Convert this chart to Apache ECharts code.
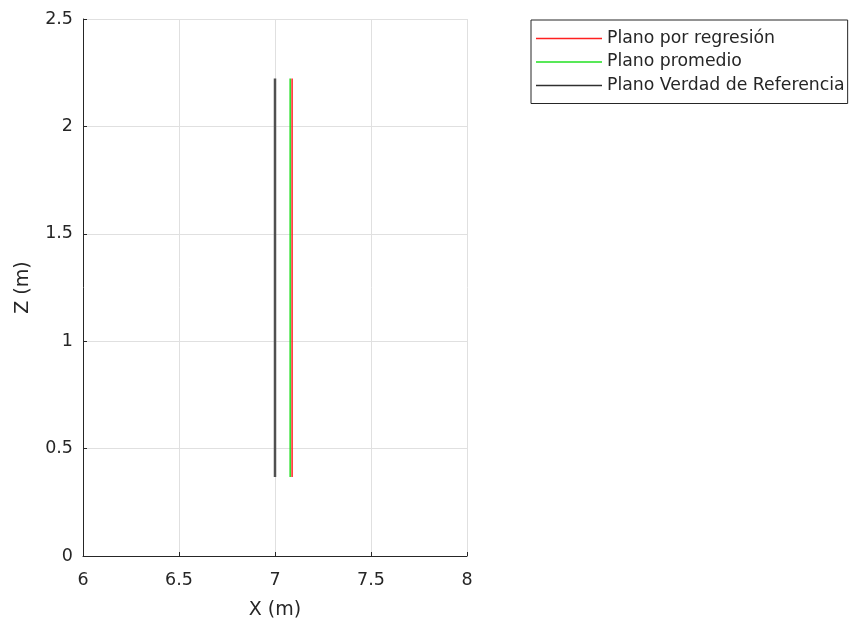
<!DOCTYPE html>
<html>
<head>
<meta charset="utf-8">
<script src="https://cdn.jsdelivr.net/npm/echarts@6/dist/echarts.min.js"></script>
<style>html,body{margin:0;padding:0;background:#fff;}#c{width:852px;height:628px;}</style>
</head>
<body>
<div id="c"></div>
<script>
var seriesNames = ['Plano por regresión', 'Plano promedio', 'Plano Verdad de Referencia'];
var regresionX = [7.089, 7.089];
var regresionZ = [0.368, 2.223];
var promedioX = [7.079, 7.079];
var promedioZ = [0.368, 2.223];
var verdadX = [7.0, 7.0];
var verdadZ = [0.368, 2.223];
var xTicks = [6, 6.5, 7, 7.5, 8];
var yTicks = [0, 0.5, 1, 1.5, 2, 2.5];

function pts(xs, zs) { return xs.map(function (x, i) { return [x, zs[i]]; }); }

var chart = echarts.init(document.getElementById('c'), null, { renderer: 'canvas' });
var font = 'DejaVu Sans, sans-serif';
chart.setOption({
  animation: false,
  backgroundColor: '#fff',
  grid: { left: 83, top: 19, width: 384, height: 537, containLabel: false },
  xAxis: {
    type: 'value', min: xTicks[0], max: xTicks[xTicks.length - 1], interval: 0.5,
    name: 'X (m)', nameLocation: 'middle', nameGap: 45,
    nameTextStyle: { fontSize: 19, color: '#262626', fontFamily: font },
    axisLine: { show: true, lineStyle: { color: '#262626', width: 1 } },
    axisTick: { show: true, inside: true, length: 4, lineStyle: { color: '#262626' } },
    axisLabel: { fontSize: 17.5, color: '#262626', fontFamily: font, margin: 15 },
    splitLine: { show: true, lineStyle: { color: '#e0e0e0', width: 1 } }
  },
  yAxis: {
    type: 'value', min: yTicks[0], max: yTicks[yTicks.length - 1], interval: 0.5,
    name: 'Z (m)', nameLocation: 'middle', nameGap: 50, nameRotate: 90,
    nameTextStyle: { fontSize: 19, color: '#262626', fontFamily: font },
    axisLine: { show: true, lineStyle: { color: '#262626', width: 1 } },
    axisTick: { show: true, inside: true, length: 4, lineStyle: { color: '#262626' } },
    axisLabel: { fontSize: 17.5, color: '#262626', fontFamily: font, margin: 10 },
    splitLine: { show: true, lineStyle: { color: '#e0e0e0', width: 1 } }
  },
  legend: {
    orient: 'vertical', left: 531, top: 20,
    data: seriesNames,
    icon: 'rect',
    itemWidth: 66, itemHeight: 1.5, itemGap: 3.5,
    padding: [8.5, 3, 8, 5],
    borderColor: '#262626', borderWidth: 1, backgroundColor: '#fff',
    textStyle: { fontSize: 17.3, lineHeight: 20, color: '#262626', fontFamily: font }
  },
  series: [
    { name: seriesNames[0], type: 'line', data: pts(regresionX, regresionZ), symbol: 'none', lineStyle: { color: '#ff2020', width: 1.5 }, itemStyle: { color: '#ff2020' }, z: 3 },
    { name: seriesNames[1], type: 'line', data: pts(promedioX, promedioZ), symbol: 'none', lineStyle: { color: '#20e020', width: 1.5 }, itemStyle: { color: '#20e020' }, z: 4 },
    { name: seriesNames[2], type: 'line', data: pts(verdadX, verdadZ), symbol: 'none', lineStyle: { color: '#505050', width: 2.5 }, itemStyle: { color: '#303030' }, z: 5 }
  ]
});
</script>
</body>
</html>
